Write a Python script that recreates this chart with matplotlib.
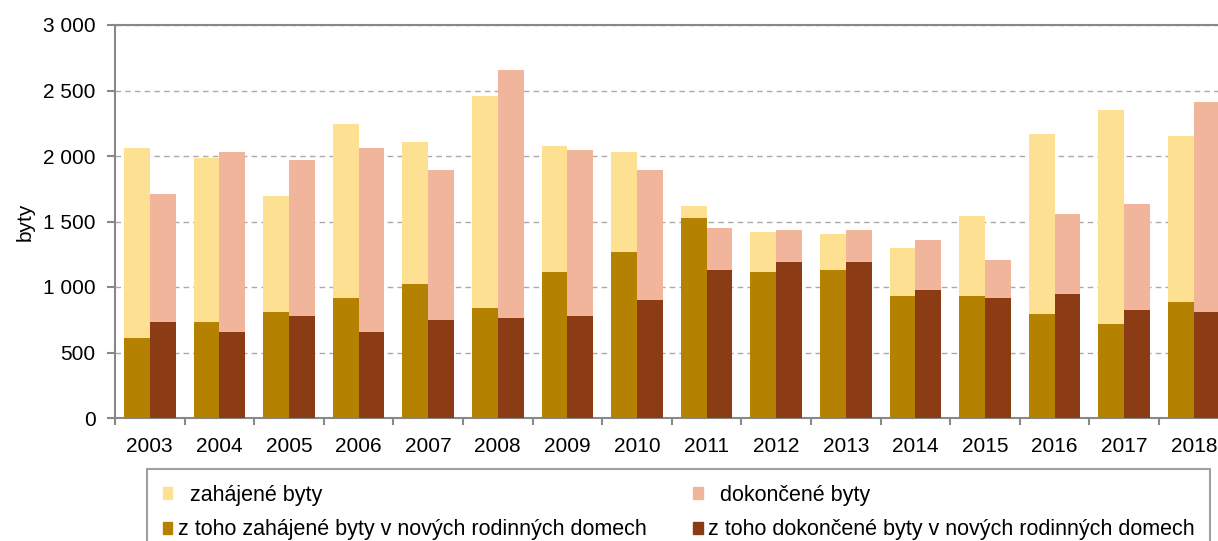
import numpy as np
import matplotlib.pyplot as plt
from matplotlib.patches import Patch
from matplotlib.ticker import FuncFormatter, MultipleLocator

roky = ["2003", "2004", "2005", "2006", "2007", "2008", "2009", "2010",
        "2011", "2012", "2013", "2014", "2015", "2016", "2017", "2018"]
zahajene = [2062, 1985, 1695, 2243, 2105, 2457, 2075, 2029,
            1616, 1422, 1402, 1297, 1539, 2166, 2350, 2151]
dokoncene = [1710, 2029, 1968, 2059, 1891, 2656, 2044, 1891,
             1448, 1438, 1435, 1361, 1208, 1557, 1634, 2411]
zahajene_rd = [612, 734, 810, 918, 1025, 841, 1117, 1269,
               1529, 1117, 1132, 933, 933, 795, 719, 887]
dokoncene_rd = [734, 658, 780, 658, 749, 765, 780, 902,
                1132, 1193, 1193, 979, 918, 948, 826, 810]

barvy = {"zah": "#FDE091", "dok": "#F0B59A", "zah_rd": "#B48200", "dok_rd": "#8C3C14"}
seda = "#888888"

plt.rcParams["font.family"] = ["Liberation Sans", "DejaVu Sans"]

fig = plt.figure(figsize=(12.18, 5.41), dpi=100)
ax = fig.add_axes([115 / 1218, 1 - 418 / 541, 1113.6 / 1218, 393 / 541])

x = np.arange(len(roky))
w = 0.37
ax.bar(x - w / 2, zahajene, w, color=barvy["zah"], zorder=2)
ax.bar(x + w / 2, dokoncene, w, color=barvy["dok"], zorder=2)
ax.bar(x - w / 2, zahajene_rd, w, color=barvy["zah_rd"], zorder=3)
ax.bar(x + w / 2, dokoncene_rd, w, color=barvy["dok_rd"], zorder=3)

ax.set_xlim(-0.5, len(roky) - 0.5)
ax.set_ylim(0, 3000)
ax.yaxis.set_major_locator(MultipleLocator(500))
ax.yaxis.set_major_formatter(FuncFormatter(lambda v, p: f"{int(v):,}".replace(",", " ")))
ax.grid(axis="y", color="#aaaaaa", linestyle=(0, (4, 3)), linewidth=1, zorder=0)

ax.set_xticks(x)
ax.set_xticklabels(roky)
ax.set_xticks(np.arange(-0.5, len(roky)), minor=True)
ax.tick_params(axis="x", which="major", length=0, pad=14, labelsize=15)
ax.tick_params(axis="x", which="minor", length=5, width=1.5, color=seda)
ax.tick_params(axis="y", length=6, width=1.5, color=seda, labelsize=15, pad=8)

for s in ["left", "bottom", "top"]:
    ax.spines[s].set_color(seda)
    ax.spines[s].set_linewidth(1.5)
ax.spines["right"].set_visible(False)

ax.set_ylabel("byty", fontsize=15, labelpad=6)

# pořadí po sloupcích legendy
handles = [Patch(color=barvy["zah"], label="  zahájené byty"),
           Patch(color=barvy["zah_rd"], label="z toho zahájené byty v nových rodinných domech"),
           Patch(color=barvy["dok"], label="  dokončené byty"),
           Patch(color=barvy["dok_rd"], label="z toho dokončené byty v nových rodinných domech")]
leg = fig.legend(handles=handles, ncol=2, loc="upper left",
                 bbox_to_anchor=(147 / 1218, 1 - 469 / 541), borderaxespad=0,
                 fontsize=15.5, frameon=True, fancybox=False, edgecolor=seda,
                 handlelength=0.46, handleheight=0.5, handletextpad=0.25,
                 borderpad=0.72, labelspacing=0.65, columnspacing=2.15)
leg.get_frame().set_linewidth(1.5)

fig.savefig("out.png", dpi=100)
